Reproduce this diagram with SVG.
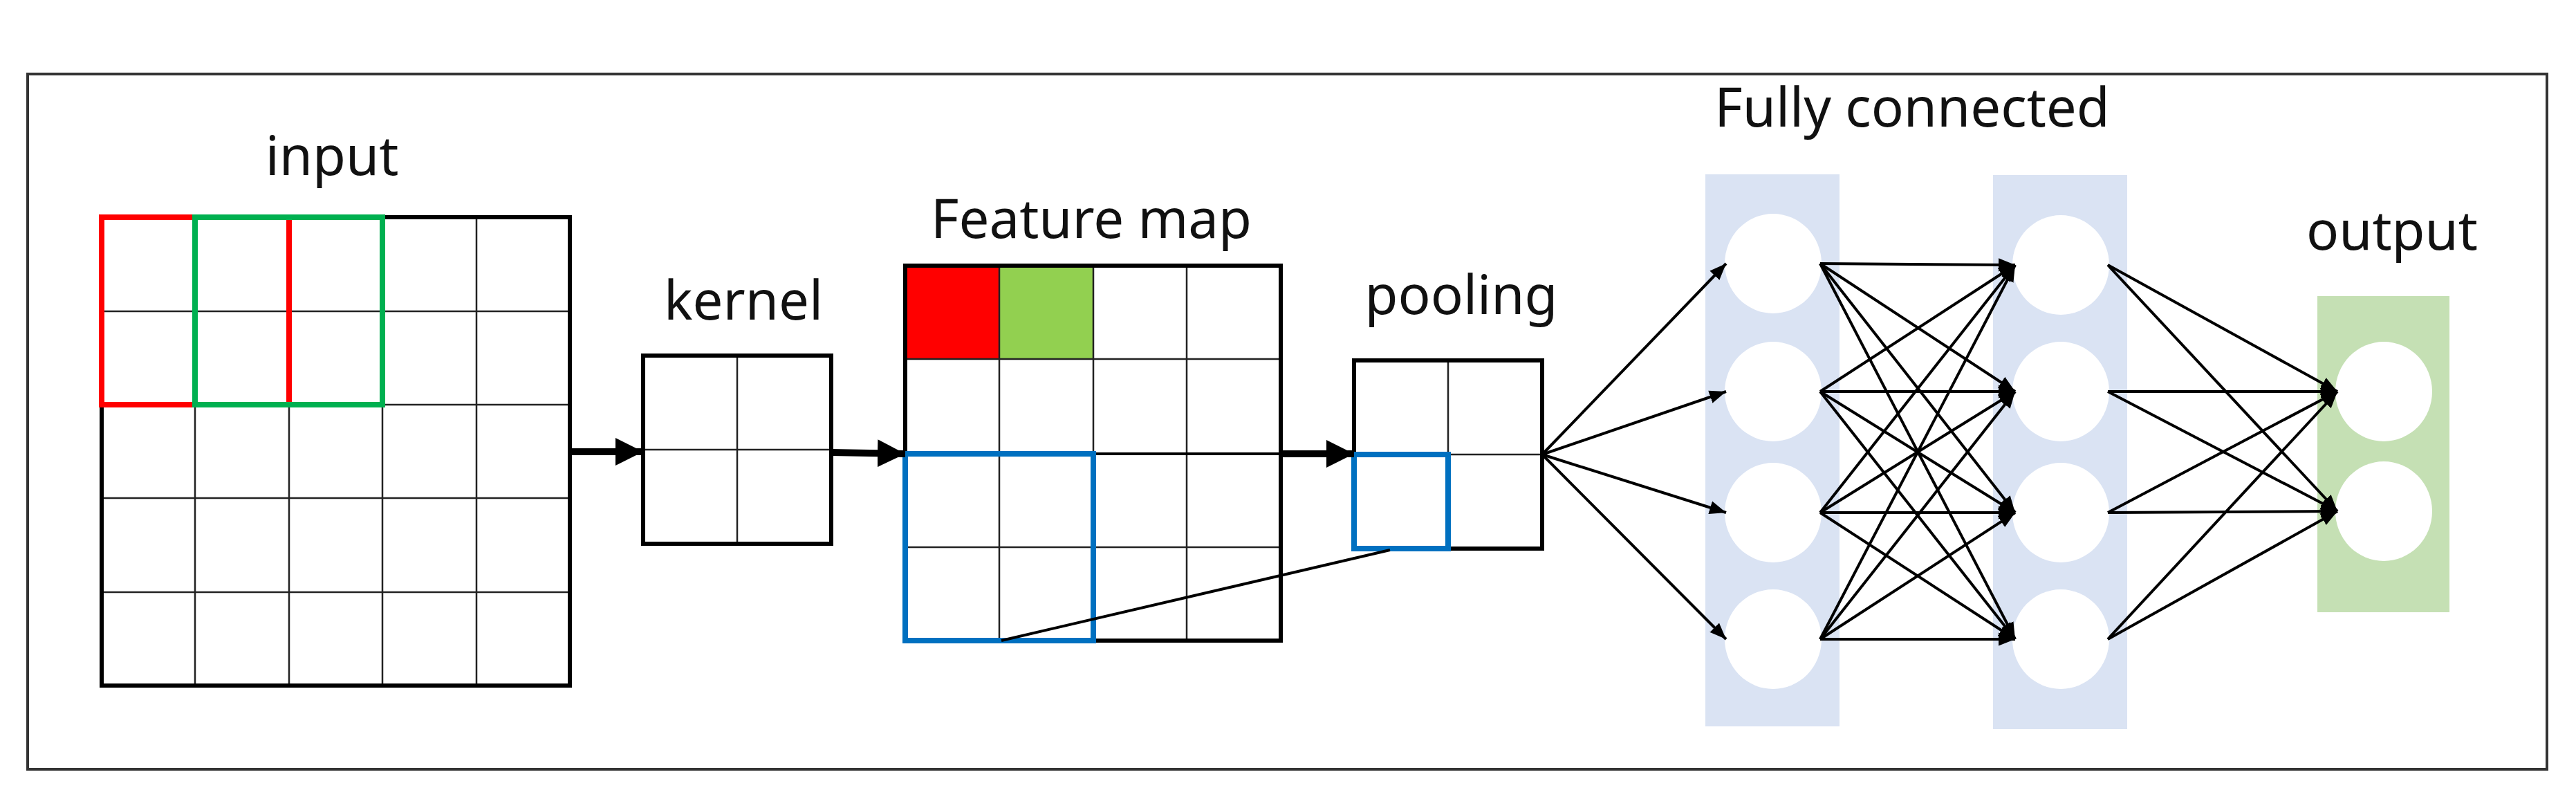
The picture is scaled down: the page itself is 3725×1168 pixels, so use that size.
<svg xmlns="http://www.w3.org/2000/svg" width="3725" height="1168" viewBox="0 0 3725 1168">
<style>
text{font-family:"Noto Sans","Open Sans",sans-serif;font-size:78px;fill:#111;text-anchor:middle}
.g{stroke:#222;stroke-width:2.5;fill:none}
.o{stroke:#000;stroke-width:6;fill:none}
.c{stroke:#000;stroke-width:4;fill:none}
.big{stroke:#000;stroke-width:10;fill:none}
</style>
<defs>
<marker id="a" viewBox="0 0 10 10" refX="10" refY="5" markerWidth="6" markerHeight="6" markerUnits="strokeWidth" orient="auto"><path d="M0,1L10,5L0,9z" fill="#000"/></marker>
<marker id="b" viewBox="0 0 10 10" refX="10" refY="5" markerWidth="4" markerHeight="4.4" markerUnits="strokeWidth" orient="auto"><path d="M0,0L10,5L0,10z" fill="#000"/></marker>
</defs>
<rect x="40" y="107" width="3643" height="1005" fill="#fff" stroke="#333" stroke-width="4"/>
<g id="input">
<text x="480" y="253">input</text>
<path class="g" d="M282,314V991M418,314V991M553,314V991M689,314V991M147,450H824M147,585H824M147,720H824M147,856H824"/>
<rect class="o" x="147" y="314" width="677" height="677"/>
<rect x="147" y="314" width="271" height="271" fill="none" stroke="#f00" stroke-width="8"/>
<rect x="282" y="314" width="271" height="271" fill="none" stroke="#00b050" stroke-width="8"/>
</g>
<g id="kernel">
<text x="1075" y="462">kernel</text>
<path class="g" d="M1066,514V786M930,650H1202"/>
<rect class="o" x="930" y="514" width="272" height="272"/>
</g>
<g id="feature-map">
<text x="1578" y="344">Feature map</text>
<rect x="1309" y="384" width="136" height="135" fill="#f00"/>
<rect x="1445" y="384" width="136" height="135" fill="#92d050"/>
<path class="g" d="M1445,384V926M1581,384V926M1716,384V926M1309,519H1852M1309,791H1852"/>
<path d="M1309,656H1852" stroke="#000" stroke-width="4"/>
<rect class="o" x="1309" y="384" width="543" height="542"/>
<rect x="1309" y="656" width="272" height="270" fill="none" stroke="#0070c0" stroke-width="8"/>
</g>
<g id="pooling">
<text x="2113" y="454">pooling</text>
<path class="g" d="M2094,521V793M1958,657H2230"/>
<rect class="o" x="1958" y="521" width="272" height="272"/>
<rect x="1958" y="657" width="136" height="136" fill="none" stroke="#0070c0" stroke-width="8"/>
</g>
<g id="fc1">
<text x="2765" y="183">Fully connected</text>
<rect x="2466" y="252" width="194" height="798" fill="#dae3f3"/>
<g fill="#fff"><ellipse cx="2564" cy="381" rx="70" ry="72"/><ellipse cx="2564" cy="566" rx="70" ry="72"/><ellipse cx="2564" cy="741" rx="70" ry="72"/><ellipse cx="2564" cy="924" rx="70" ry="72"/></g>
</g>
<g id="fc2">
<rect x="2882" y="253" width="194" height="801" fill="#dae3f3"/>
<g fill="#fff"><ellipse cx="2980" cy="383" rx="70" ry="72"/><ellipse cx="2980" cy="566" rx="70" ry="72"/><ellipse cx="2980" cy="741" rx="70" ry="72"/><ellipse cx="2980" cy="924" rx="70" ry="72"/></g>
</g>
<g id="output">
<text x="3459" y="361">output</text>
<rect x="3351" y="428" width="191" height="457" fill="#c5e0b4"/>
<g fill="#fff"><ellipse cx="3447" cy="566" rx="70" ry="72"/><ellipse cx="3447" cy="739" rx="70" ry="72"/></g>
</g>
<g id="connectors">
<path class="big" marker-end="url(#b)" d="M824,653H930"/>
<path class="big" marker-end="url(#b)" d="M1202,654L1309,656"/>
<path class="big" marker-end="url(#b)" d="M1852,656H1958"/>
<path class="c" d="M1448,926L2010,795"/>
<g class="c" marker-end="url(#a)">
<path d="M2230,657L2496,381"/><path d="M2230,657L2496,566"/><path d="M2230,657L2496,741"/><path d="M2230,657L2496,924"/>
<path d="M2632,381L2914,383"/><path d="M2632,381L2914,566"/><path d="M2632,381L2914,741"/><path d="M2632,381L2914,924"/>
<path d="M2632,566L2914,383"/><path d="M2632,566L2914,566"/><path d="M2632,566L2914,741"/><path d="M2632,566L2914,924"/>
<path d="M2632,741L2914,383"/><path d="M2632,741L2914,566"/><path d="M2632,741L2914,741"/><path d="M2632,741L2914,924"/>
<path d="M2632,924L2914,383"/><path d="M2632,924L2914,566"/><path d="M2632,924L2914,741"/><path d="M2632,924L2914,924"/>
<path d="M3048,383L3380,566"/><path d="M3048,383L3380,739"/>
<path d="M3048,566L3380,566"/><path d="M3048,566L3380,739"/>
<path d="M3048,741L3380,566"/><path d="M3048,741L3380,739"/>
<path d="M3048,924L3380,566"/><path d="M3048,924L3380,739"/>
</g>
</g>
</svg>
